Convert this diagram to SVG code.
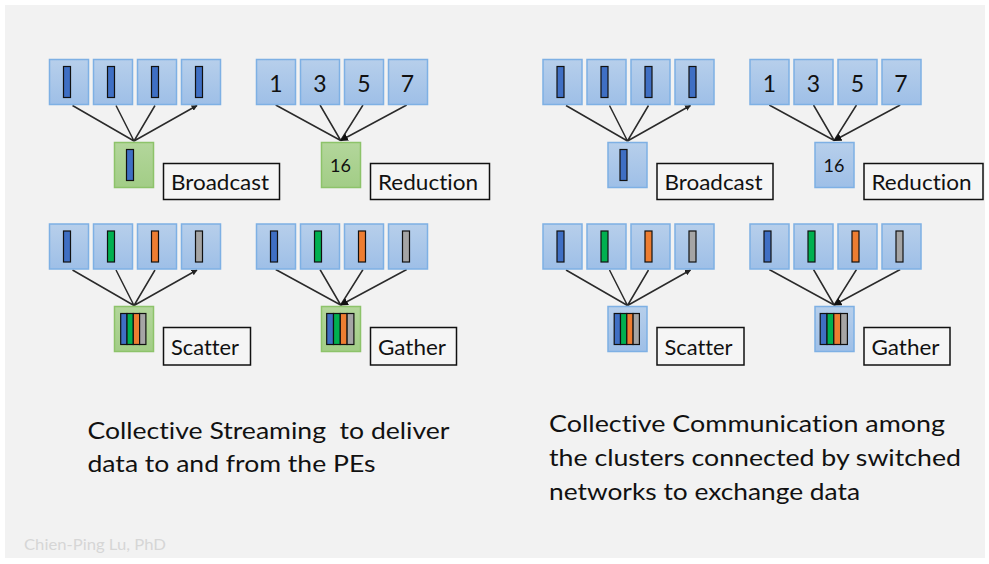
<svg xmlns="http://www.w3.org/2000/svg" width="989" height="564" viewBox="0 0 989 564">
<defs>
<linearGradient id="gBlue" x1="0" y1="0" x2="0" y2="1"><stop offset="0" stop-color="#b7cfeb"/><stop offset="1" stop-color="#9ebfe7"/></linearGradient>
<linearGradient id="gGreen" x1="0" y1="0" x2="0" y2="1"><stop offset="0" stop-color="#b3d69b"/><stop offset="1" stop-color="#a2cd86"/></linearGradient>
<marker id="ah" viewBox="0 0 10 10" refX="9" refY="5" markerWidth="6" markerHeight="6" orient="auto" markerUnits="userSpaceOnUse"><path d="M0,0 L10,5 L0,10 z" fill="#222"/></marker>
<marker id="ah2" viewBox="0 0 10 10" refX="9" refY="5" markerWidth="8" markerHeight="8" orient="auto" markerUnits="userSpaceOnUse"><path d="M0,0 L10,5 L0,10 z" fill="#111"/></marker>
<style>
.pe{fill:url(#gBlue);stroke:#7eb0e4;stroke-width:1.5}
.src{fill:url(#gGreen);stroke:#8dc36a;stroke-width:1.5}
.bar{stroke:#111;stroke-width:1.2}
.b{fill:#3f6fc4}.g{fill:#00b050}.o{fill:#ed7d31}.y{fill:#a5a5a5}
.lbl{fill:#f5f5f5;stroke:#111;stroke-width:1.5}
.t{font-family:Lato,"Open Sans",sans-serif;fill:#111;font-variant-ligatures:none;font-feature-settings:"liga" 0,"dlig" 0}
.lt{font-size:21px}
.num{font-size:23px;text-anchor:middle}
.n16{font-size:18px;text-anchor:middle}
.ln{stroke:#2a2a2a;stroke-width:1.5;fill:none}
.big{font-size:24px}
</style>
</defs>
<rect width="989" height="564" fill="#ffffff"/>
<rect x="5" y="5" width="980" height="553" fill="#f2f2f2"/>

<!-- connectors -->
<g id="connectors">
  <g transform="translate(0,0)"><path class="ln" marker-end="url(#ah)" d="M134,141 L72.5,105.5 M134,141 L116,105.5 M134,141 L155,105.5 M134,141 L197,105.5"/></g>
  <g transform="translate(207,0)"><path class="ln" marker-end="url(#ah2)" d="M68.7,105 L133.7,140.5 M113,105 L133.7,140.5 M156,105 L133.7,140.5 M199.7,105 L133.7,140.5"/></g>
  <g transform="translate(0,164.5)"><path class="ln" marker-end="url(#ah)" d="M134,141 L72.5,105.5 M134,141 L116,105.5 M134,141 L155,105.5 M134,141 L197,105.5"/></g>
  <g transform="translate(207,164.5)"><path class="ln" marker-end="url(#ah2)" d="M68.7,105 L133.7,140.5 M113,105 L133.7,140.5 M156,105 L133.7,140.5 M199.7,105 L133.7,140.5"/></g>
  <g transform="translate(493.5,0)"><path class="ln" marker-end="url(#ah)" d="M134,141 L72.5,105.5 M134,141 L116,105.5 M134,141 L155,105.5 M134,141 L197,105.5"/></g>
  <g transform="translate(700.5,0)"><path class="ln" marker-end="url(#ah2)" d="M68.7,105 L133.7,140.5 M113,105 L133.7,140.5 M156,105 L133.7,140.5 M199.7,105 L133.7,140.5"/></g>
  <g transform="translate(493.5,164.5)"><path class="ln" marker-end="url(#ah)" d="M134,141 L72.5,105.5 M134,141 L116,105.5 M134,141 L155,105.5 M134,141 L197,105.5"/></g>
  <g transform="translate(700.5,164.5)"><path class="ln" marker-end="url(#ah2)" d="M68.7,105 L133.7,140.5 M113,105 L133.7,140.5 M156,105 L133.7,140.5 M199.7,105 L133.7,140.5"/></g>
</g>

<!-- Left: Broadcast -->
<g id="stream-broadcast" transform="translate(0,0)">
  <rect class="pe" x="49.5" y="59.5" width="39" height="45"/><rect class="bar b" x="63.5" y="66.5" width="7" height="31"/>
  <rect class="pe" x="93.5" y="59.5" width="39" height="45"/><rect class="bar b" x="107.5" y="66.5" width="7" height="31"/>
  <rect class="pe" x="137.5" y="59.5" width="39" height="45"/><rect class="bar b" x="151.5" y="66.5" width="7" height="31"/>
  <rect class="pe" x="181.5" y="59.5" width="39" height="45"/><rect class="bar b" x="195.5" y="66.5" width="7" height="31"/>
  <rect class="src" x="114.5" y="142.5" width="39" height="45"/><rect class="bar b" x="126.5" y="149.5" width="7" height="31"/>
  <rect class="lbl" x="163.5" y="163.5" width="116" height="36"/>
  <text class="t lt" x="171" y="190" textLength="98" lengthAdjust="spacingAndGlyphs">Broadcast</text>
</g>

<!-- Left: Reduction -->
<g id="stream-reduction" transform="translate(207,0)">
  <rect class="pe" x="49.5" y="59.5" width="39" height="45"/><text class="t num" x="69" y="91.5">1</text>
  <rect class="pe" x="93.5" y="59.5" width="39" height="45"/><text class="t num" x="113" y="91.5">3</text>
  <rect class="pe" x="137.5" y="59.5" width="39" height="45"/><text class="t num" x="157" y="91.5">5</text>
  <rect class="pe" x="181.5" y="59.5" width="39" height="45"/><text class="t num" x="200.5" y="91.5">7</text>
  <rect class="src" x="114.5" y="142.5" width="39" height="45"/><text class="t n16" x="133.5" y="171.5">16</text>
  <rect class="lbl" x="163.5" y="163.5" width="119" height="36"/>
  <text class="t lt" x="171" y="190" textLength="100" lengthAdjust="spacingAndGlyphs">Reduction</text>
</g>

<!-- Left: Scatter -->
<g id="stream-scatter" transform="translate(0,164.5)">
  <rect class="pe" x="49.5" y="59.5" width="39" height="45"/><rect class="bar b" x="63.5" y="66.5" width="7" height="31"/>
  <rect class="pe" x="93.5" y="59.5" width="39" height="45"/><rect class="bar g" x="107.5" y="66.5" width="7" height="31"/>
  <rect class="pe" x="137.5" y="59.5" width="39" height="45"/><rect class="bar o" x="151.5" y="66.5" width="7" height="31"/>
  <rect class="pe" x="181.5" y="59.5" width="39" height="45"/><rect class="bar y" x="195.5" y="66.5" width="7" height="31"/>
  <rect class="src" x="114.5" y="142" width="39" height="45"/>
  <rect class="bar b" x="120.7" y="149" width="6.3" height="31"/><rect class="bar g" x="127" y="149" width="6.3" height="31"/><rect class="bar o" x="133.3" y="149" width="6.3" height="31"/><rect class="bar y" x="139.6" y="149" width="6.3" height="31"/>
  <rect class="lbl" x="163.5" y="163" width="87" height="37.5"/>
  <text class="t lt" x="171" y="190" textLength="68" lengthAdjust="spacingAndGlyphs">Scatter</text>
</g>

<!-- Left: Gather -->
<g id="stream-gather" transform="translate(207,164.5)">
  <rect class="pe" x="49.5" y="59.5" width="39" height="45"/><rect class="bar b" x="63.5" y="66.5" width="7" height="31"/>
  <rect class="pe" x="93.5" y="59.5" width="39" height="45"/><rect class="bar g" x="107.5" y="66.5" width="7" height="31"/>
  <rect class="pe" x="137.5" y="59.5" width="39" height="45"/><rect class="bar o" x="151.5" y="66.5" width="7" height="31"/>
  <rect class="pe" x="181.5" y="59.5" width="39" height="45"/><rect class="bar y" x="195.5" y="66.5" width="7" height="31"/>
  <rect class="src" x="114.5" y="142" width="39" height="45"/>
  <rect class="bar b" x="119.7" y="149" width="6.8" height="31"/><rect class="bar g" x="126.5" y="149" width="6.8" height="31"/><rect class="bar o" x="133.3" y="149" width="6.8" height="31"/><rect class="bar y" x="140.1" y="149" width="6.8" height="31"/>
  <rect class="lbl" x="163.5" y="163" width="86" height="37.5"/>
  <text class="t lt" x="171" y="190" textLength="68" lengthAdjust="spacingAndGlyphs">Gather</text>
</g>

<!-- Right: Broadcast -->
<g id="comm-broadcast" transform="translate(493.5,0)">
  <rect class="pe" x="49.5" y="59.5" width="39" height="45"/><rect class="bar b" x="63.5" y="66.5" width="7" height="31"/>
  <rect class="pe" x="93.5" y="59.5" width="39" height="45"/><rect class="bar b" x="107.5" y="66.5" width="7" height="31"/>
  <rect class="pe" x="137.5" y="59.5" width="39" height="45"/><rect class="bar b" x="151.5" y="66.5" width="7" height="31"/>
  <rect class="pe" x="181.5" y="59.5" width="39" height="45"/><rect class="bar b" x="195.5" y="66.5" width="7" height="31"/>
  <rect class="pe" x="114.5" y="142.5" width="39" height="45"/><rect class="bar b" x="126.5" y="149.5" width="7" height="31"/>
  <rect class="lbl" x="163.5" y="163.5" width="116" height="36"/>
  <text class="t lt" x="171" y="190" textLength="98" lengthAdjust="spacingAndGlyphs">Broadcast</text>
</g>

<!-- Right: Reduction -->
<g id="comm-reduction" transform="translate(700.5,0)">
  <rect class="pe" x="49.5" y="59.5" width="39" height="45"/><text class="t num" x="69" y="91.5">1</text>
  <rect class="pe" x="93.5" y="59.5" width="39" height="45"/><text class="t num" x="113" y="91.5">3</text>
  <rect class="pe" x="137.5" y="59.5" width="39" height="45"/><text class="t num" x="157" y="91.5">5</text>
  <rect class="pe" x="181.5" y="59.5" width="39" height="45"/><text class="t num" x="200.5" y="91.5">7</text>
  <rect class="pe" x="114.5" y="142.5" width="39" height="45"/><text class="t n16" x="133.5" y="171.5">16</text>
  <rect class="lbl" x="163.5" y="163.5" width="119" height="36"/>
  <text class="t lt" x="171" y="190" textLength="100" lengthAdjust="spacingAndGlyphs">Reduction</text>
</g>

<!-- Right: Scatter -->
<g id="comm-scatter" transform="translate(493.5,164.5)">
  <rect class="pe" x="49.5" y="59.5" width="39" height="45"/><rect class="bar b" x="63.5" y="66.5" width="7" height="31"/>
  <rect class="pe" x="93.5" y="59.5" width="39" height="45"/><rect class="bar g" x="107.5" y="66.5" width="7" height="31"/>
  <rect class="pe" x="137.5" y="59.5" width="39" height="45"/><rect class="bar o" x="151.5" y="66.5" width="7" height="31"/>
  <rect class="pe" x="181.5" y="59.5" width="39" height="45"/><rect class="bar y" x="195.5" y="66.5" width="7" height="31"/>
  <rect class="pe" x="114.5" y="142" width="39" height="45"/>
  <rect class="bar b" x="120.7" y="149" width="6.3" height="31"/><rect class="bar g" x="127" y="149" width="6.3" height="31"/><rect class="bar o" x="133.3" y="149" width="6.3" height="31"/><rect class="bar y" x="139.6" y="149" width="6.3" height="31"/>
  <rect class="lbl" x="163.5" y="163" width="87" height="37.5"/>
  <text class="t lt" x="171" y="190" textLength="68" lengthAdjust="spacingAndGlyphs">Scatter</text>
</g>

<!-- Right: Gather -->
<g id="comm-gather" transform="translate(700.5,164.5)">
  <rect class="pe" x="49.5" y="59.5" width="39" height="45"/><rect class="bar b" x="63.5" y="66.5" width="7" height="31"/>
  <rect class="pe" x="93.5" y="59.5" width="39" height="45"/><rect class="bar g" x="107.5" y="66.5" width="7" height="31"/>
  <rect class="pe" x="137.5" y="59.5" width="39" height="45"/><rect class="bar o" x="151.5" y="66.5" width="7" height="31"/>
  <rect class="pe" x="181.5" y="59.5" width="39" height="45"/><rect class="bar y" x="195.5" y="66.5" width="7" height="31"/>
  <rect class="pe" x="114.5" y="142" width="39" height="45"/>
  <rect class="bar b" x="119.7" y="149" width="6.8" height="31"/><rect class="bar g" x="126.5" y="149" width="6.8" height="31"/><rect class="bar o" x="133.3" y="149" width="6.8" height="31"/><rect class="bar y" x="140.1" y="149" width="6.8" height="31"/>
  <rect class="lbl" x="163.5" y="163" width="86" height="37.5"/>
  <text class="t lt" x="171" y="190" textLength="68" lengthAdjust="spacingAndGlyphs">Gather</text>
</g>

<!-- captions -->
<g id="caption-left">
  <text class="t big" x="87.5" y="438.5" textLength="362" lengthAdjust="spacingAndGlyphs" xml:space="preserve">Collective Streaming  to deliver</text>
  <text class="t big" x="87.5" y="471.5" textLength="288" lengthAdjust="spacingAndGlyphs">data to and from the PEs</text>
</g>
<g id="caption-right">
  <text class="t big" x="549" y="431.5" textLength="396" lengthAdjust="spacingAndGlyphs">Collective Communication among</text>
  <text class="t big" x="549" y="466" textLength="412" lengthAdjust="spacingAndGlyphs">the clusters connected by switched</text>
  <text class="t big" x="549" y="499.5" textLength="311" lengthAdjust="spacingAndGlyphs">networks to exchange data</text>
</g>
<text class="t" x="24" y="550" font-size="16" style="fill:#d6d6d6" textLength="142" lengthAdjust="spacingAndGlyphs">Chien-Ping Lu, PhD</text>
</svg>
